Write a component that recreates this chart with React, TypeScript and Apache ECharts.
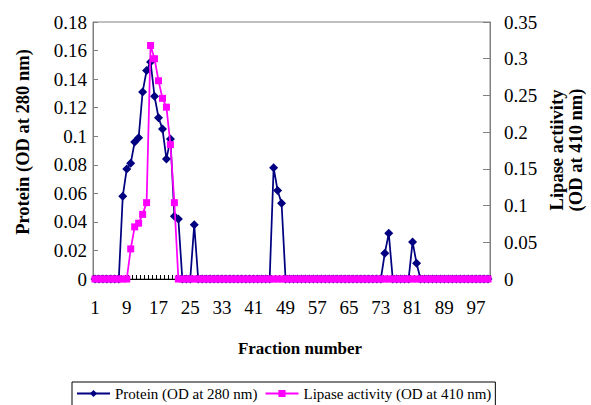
import React, { useEffect, useRef } from "react";
import * as echarts from "echarts";

const fractions: string[] = [
  "1", "2", "3", "4", "5", "6", "7", "8", "9", "10",
  "11", "12", "13", "14", "15", "16", "17", "18", "19", "20",
  "21", "22", "23", "24", "25", "26", "27", "28", "29", "30",
  "31", "32", "33", "34", "35", "36", "37", "38", "39", "40",
  "41", "42", "43", "44", "45", "46", "47", "48", "49", "50",
  "51", "52", "53", "54", "55", "56", "57", "58", "59", "60",
  "61", "62", "63", "64", "65", "66", "67", "68", "69", "70",
  "71", "72", "73", "74", "75", "76", "77", "78", "79", "80",
  "81", "82", "83", "84", "85", "86", "87", "88", "89", "90",
  "91", "92", "93", "94", "95", "96", "97", "98", "99", "100",
];

const protein: number[] = [
  0, 0, 0, 0, 0, 0, 0, 0.058, 0.077, 0.081,
  0.096, 0.099, 0.131, 0.146, 0.152, 0.128, 0.113, 0.105, 0.084, 0.098,
  0.044, 0.042, 0, 0, 0, 0.038, 0, 0, 0, 0,
  0, 0, 0, 0, 0, 0, 0, 0, 0, 0,
  0, 0, 0, 0, 0, 0.078, 0.062, 0.053, 0, 0,
  0, 0, 0, 0, 0, 0, 0, 0, 0, 0,
  0, 0, 0, 0, 0, 0, 0, 0, 0, 0,
  0, 0, 0, 0.018, 0.032, 0, 0, 0, 0, 0,
  0.026, 0.011, 0, 0, 0, 0, 0, 0, 0, 0,
  0, 0, 0, 0, 0, 0, 0, 0, 0, 0,
];

const lipase: number[] = [
  0, 0, 0, 0, 0, 0, 0, 0, 0, 0.041,
  0.071, 0.076, 0.088, 0.104, 0.318, 0.3, 0.27, 0.246, 0.234, 0.183,
  0.104, 0, 0, 0, 0, 0, 0, 0, 0, 0,
  0, 0, 0, 0, 0, 0, 0, 0, 0, 0,
  0, 0, 0, 0, 0, 0, 0, 0, 0, 0,
  0, 0, 0, 0, 0, 0, 0, 0, 0, 0,
  0, 0, 0, 0, 0, 0, 0, 0, 0, 0,
  0, 0, 0, 0, 0, 0, 0, 0, 0, 0,
  0, 0, 0, 0, 0, 0, 0, 0, 0, 0,
  0, 0, 0, 0, 0, 0, 0, 0, 0, 0,
];

const seriesNames = ["Protein (OD at 280 nm)", "Lipase activity (OD at 410 nm)"];
const xTitle = "Fraction number";
const leftTitle = "Protein (OD at 280 nm)";
const rightTitleLines = ["Lipase actiivity", "(OD at 410 nm)"];

const FONT = "Liberation Serif, Times New Roman, serif";

export default function App() {
  const ref = useRef<HTMLDivElement>(null);

  useEffect(() => {
    if (!ref.current) return;
    const chart = echarts.init(ref.current, null, { renderer: "svg" });
    const titleStyle = {
      fontSize: 18.5,
      fontWeight: "bold",
      fontFamily: FONT,
      fill: "#000",
      align: "center",
      verticalAlign: "middle",
    };
    chart.setOption({
      animation: false,
      backgroundColor: "#ffffff",
      textStyle: { fontFamily: FONT, color: "#000" },
      grid: {
        left: 93,
        top: 22,
        width: 397,
        height: 257,
        show: true,
        borderColor: "#808080",
        borderWidth: 1,
        backgroundColor: "transparent",
      },
      legend: {
        show: true,
        left: 72,
        top: 382,
        orient: "horizontal",
        itemWidth: 33,
        itemHeight: 9,
        itemGap: 7,
        padding: [4, 4, 6, 4],
        borderColor: "#000",
        borderWidth: 1,
        textStyle: { fontSize: 15, color: "#000", fontFamily: FONT },
        data: seriesNames,
      },
      xAxis: {
        type: "category",
        data: fractions,
        boundaryGap: true,
        axisLine: { show: true, lineStyle: { color: "#000", width: 1 } },
        axisTick: { show: true, inside: true, length: 4, interval: 0, lineStyle: { color: "#000" } },
        axisLabel: { interval: 7, fontSize: 19, color: "#000", margin: 19, fontFamily: FONT },
        splitLine: { show: false },
      },
      yAxis: [
        {
          type: "value",
          position: "left",
          min: 0,
          max: 0.18,
          interval: 0.02,
          axisLine: { show: true, lineStyle: { color: "#808080" } },
          axisTick: { show: true, inside: true, length: 5, lineStyle: { color: "#808080" } },
          axisLabel: { fontSize: 19, color: "#000", margin: 6, fontFamily: FONT },
          splitLine: { show: false },
        },
        {
          type: "value",
          position: "right",
          min: 0,
          max: 0.35,
          interval: 0.05,
          axisLine: { show: true, lineStyle: { color: "#808080" } },
          axisTick: { show: true, inside: true, length: 7, lineStyle: { color: "#808080" } },
          axisLabel: { fontSize: 19, color: "#000", margin: 14, fontFamily: FONT },
          splitLine: { show: false },
        },
      ],
      series: [
        {
          name: seriesNames[0],
          type: "line",
          data: protein,
          yAxisIndex: 0,
          symbol: "diamond",
          symbolSize: 9,
          showAllSymbol: true,
          z: 2,
          lineStyle: { color: "#000080", width: 1.75 },
          itemStyle: { color: "#000080" },
        },
        {
          name: seriesNames[1],
          type: "line",
          data: lipase,
          yAxisIndex: 1,
          symbol: "rect",
          symbolSize: 7,
          showAllSymbol: true,
          z: 3,
          lineStyle: { color: "#ff00ff", width: 1.75 },
          itemStyle: { color: "#ff00ff" },
        },
      ],
      graphic: [
        { type: "text", x: 300, y: 348, style: { ...titleStyle, fontSize: 17, text: xTitle } },
        { type: "text", x: 23, y: 142, rotation: Math.PI / 2, style: { ...titleStyle, text: leftTitle } },
        { type: "text", x: 557, y: 150, rotation: Math.PI / 2, style: { ...titleStyle, text: rightTitleLines[0] } },
        { type: "text", x: 576, y: 150, rotation: Math.PI / 2, style: { ...titleStyle, text: rightTitleLines[1] } },
      ],
    });
    return () => chart.dispose();
  }, []);

  return (
    <div
      ref={ref}
      style={{ position: "fixed", left: 0, top: 0, width: 591, height: 405, background: "#fff" }}
    />
  );
}
